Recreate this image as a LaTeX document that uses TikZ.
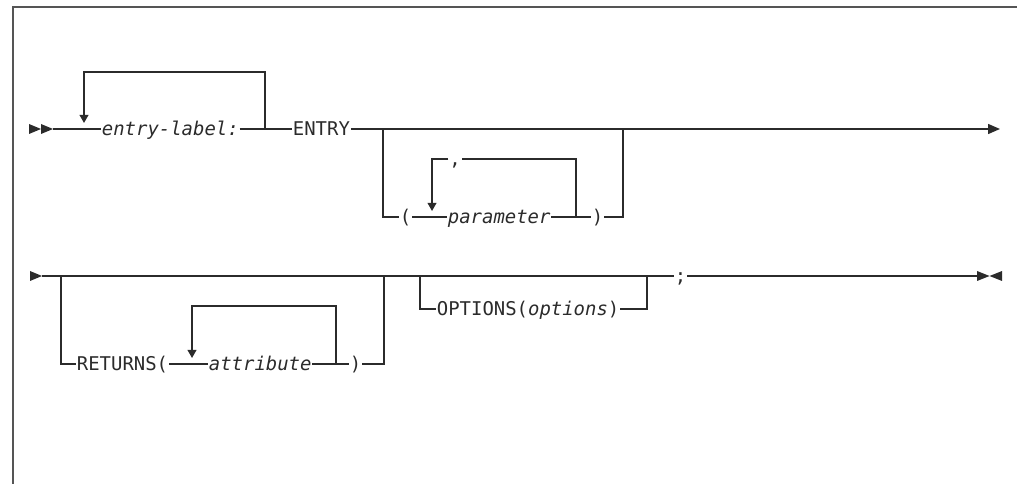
\documentclass[tikz,border=0pt]{standalone}
\usepackage{fontspec}
\newfontfamily\railfont{DejaVu Sans Mono}[ItalicFont={DejaVu Sans Mono Oblique}]
\usetikzlibrary{arrows.meta}
\definecolor{ink}{HTML}{2B2B2B}
\definecolor{rim}{HTML}{555555}
\tikzset{
  rail/.style={draw=ink, line width=1.1pt},
  back/.style={rail, -{Triangle[length=6pt, width=6.5pt]}},
  marker/.style={fill=ink},
  word/.style={font=\railfont\fontsize{14.2}{17}\selectfont, text=ink, inner xsep=0.5pt, inner ysep=0pt,
    text height=9.6pt, text depth=0pt, anchor=west},
  var/.style={word, font=\railfont\fontsize{14.2}{17}\selectfont\itshape},
  frame/.style={draw=rim, line width=1.2pt}
}
\begin{document}
\begin{tikzpicture}[x=0.75pt, y=-0.75pt]
  \useasboundingbox (0,0) rectangle (1017,484);
  \draw[frame] (13,484) -- (13,7) -- (1017,7);
  % first line
  \coordinate (start1) at (29,129);
  \fill[marker] (start1) -- ++(0,-5) -- ++(12,5) -- ++(-12,5) -- cycle;
  \fill[marker] (start1) ++(12,0) -- ++(0,-5) -- ++(12,5) -- ++(-12,5) -- cycle;
  \coordinate (s1) at (53,129);
  \node[var] (label) at (101,129) {entry-label:};
  \node[word] (entry) at (292,129) {ENTRY};
  \coordinate (end1) at (1000,129);
  \draw[rail] (s1) -- (label.west);
  \draw[rail] (label.east) -- (entry.west);
  \draw[rail, -{Triangle[length=9pt, width=7.5pt]}] (entry.east) -- (end1);
  \coordinate (lbl) at (84,129);
  \coordinate (lbr) at (265,129);
  \draw[back] (lbr) -- ++(0,-57) -| ([yshift=4.5pt]lbl);
  % optional parameter list
  \coordinate (optl) at (383,129);
  \coordinate (optr) at (623,129);
  \node[word] (lpar) at (399,217) {(};
  \node[var] (param) at (447,217) {parameter};
  \node[word] (rpar) at (591,217) {)};
  \draw[rail] (optl) |- (lpar.west);
  \draw[rail] (lpar.east) -- (param.west);
  \draw[rail] (param.east) -- (rpar.west);
  \draw[rail] (rpar.east) -| (optr);
  \node[word, anchor=center] (comma) at (455,159) {,};
  \coordinate (pl) at (432,217);
  \coordinate (pr) at (576,217);
  \draw[rail] (pr) |- (comma.east);
  \draw[back] (comma.west) -| ([yshift=4.5pt]pl);
  % second line
  \coordinate (start2) at (30,276);
  \fill[marker] (start2) -- ++(0,-5) -- ++(12,5) -- ++(-12,5) -- cycle;
  \coordinate (s2) at (42,276);
  \node[word] (semi) at (674,276) {;};
  \coordinate (end2) at (977,276);
  \coordinate (stop2) at (1002,276);
  \draw[rail] (s2) -- (semi.west);
  \draw[rail] (semi.east) -- (end2);
  \fill[marker] (end2) -- ++(0,-5) -- ++(12.5,5) -- ++(-12.5,5) -- cycle;
  \fill[marker] (stop2) -- ++(0,-5) -- ++(-12.5,5) -- ++(12.5,5) -- cycle;
  % RETURNS branch
  \coordinate (retl) at (61,276);
  \coordinate (retr) at (384,276);
  \node[word] (ret) at (76,364) {RETURNS(};
  \node[var] (attr) at (208,364) {attribute};
  \node[word] (rpar2) at (349,364) {)};
  \draw[rail] (retl) |- (ret.west);
  \draw[rail] (ret.east) -- (attr.west);
  \draw[rail] (attr.east) -- (rpar2.west);
  \draw[rail] (rpar2.east) -| (retr);
  \coordinate (al) at (192,364);
  \coordinate (ar) at (336,364);
  \draw[back] (ar) -- ++(0,-58) -| ([yshift=4.5pt]al);
  % OPTIONS branch
  \coordinate (optsl) at (420,276);
  \coordinate (optsr) at (647,276);
  \node[word] (opts) at (436,309) {OPTIONS(\textit{options})};
  \draw[rail] (optsl) |- (opts.west);
  \draw[rail] (opts.east) -| (optsr);
\end{tikzpicture}
\end{document}
